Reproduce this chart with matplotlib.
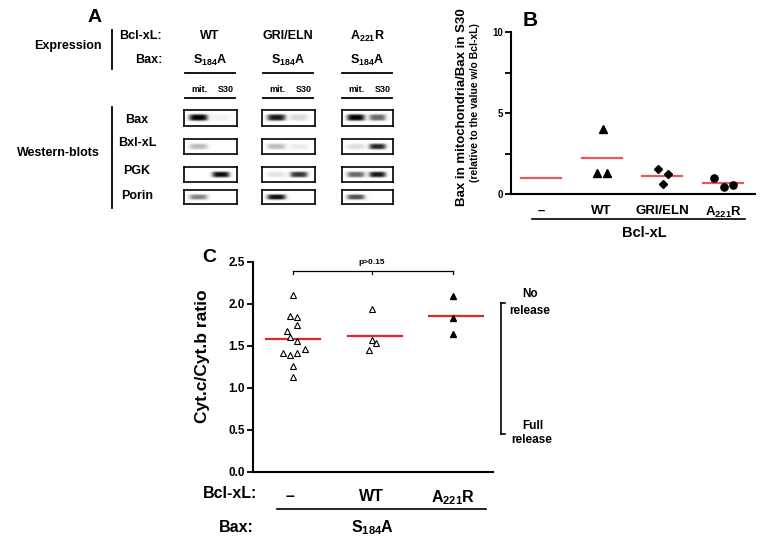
import matplotlib
matplotlib.use("Agg")
import matplotlib.pyplot as plt
import numpy as np
from matplotlib.lines import Line2D

plt.rcParams['font.family'] = ['Liberation Sans', 'DejaVu Sans']
plt.rcParams['font.weight'] = 'bold'
plt.rcParams['mathtext.fontset'] = 'custom'
plt.rcParams['mathtext.rm'] = 'Liberation Sans:bold'
plt.rcParams['mathtext.it'] = 'Liberation Sans:bold'
plt.rcParams['mathtext.bf'] = 'Liberation Sans:bold'

W, H = 779, 551
S184A = "S$_{184}$A"
A221R = "A$_{221}$R"

# ---- panel A: western blots (band intensity 0..1) ----
blot_cols = ["WT", "GRI/ELN", A221R]
blot_rows = ["Bax", "Bxl-xL", "PGK", "Porin"]
# rows: Bax, Bcl-xL, PGK, Porin ; one value per column
band_mit = [[1.0, 0.9, 1.0],
            [0.3, 0.3, 0.15],
            [0.0, 0.12, 0.6],
            [0.5, 0.95, 0.7]]
band_s30 = [[0.06, 0.18, 0.6],
            [0.0, 0.1, 0.85],
            [0.95, 0.8, 0.9],
            [0.0, 0.0, 0.0]]

# ---- panel B ----
b_labels = ["\u2013", "WT", "GRI/ELN", A221R]
b_means = [1.0, 2.2, 1.14, 0.67]
b_wt = [4.01, 1.28, 1.30]
b_gri = [1.54, 1.23, 0.64]
b_a221r = [1.0, 0.43, 0.57]
b_jit = [[0.02, -0.08, 0.09], [-0.07, 0.09, 0.01], [-0.15, 0.02, 0.165]]

# ---- panel C ----
c_labels = ["\u2013", "WT", A221R]
c_none = [2.11, 1.86, 1.84, 1.75, 1.68, 1.61, 1.56, 1.47, 1.42, 1.39, 1.42, 1.26, 1.13]
c_none_jit = [0.037, 0, 0.086, 0.086, -0.037, 0, 0.086, 0.184, -0.086, 0, 0.086, 0.037, 0.037]
c_wt = [1.94, 1.57, 1.53, 1.45]
c_wt_jit = [0, 0, 0.05, -0.037]
c_a221r = [2.09, 1.83, 1.64]
c_means = [1.58, 1.62, 1.855]


def fx(px):
    return px / W


def fy(py):
    return 1 - py / H


def rect(x0, y0, x1, y1):
    return [fx(x0), fy(y1), (x1 - x0) / W, (y1 - y0) / H]


def txt(x, y, s, size, ha="center", **kw):
    fig.text(fx(x), fy(y), s, fontsize=size, ha=ha, va="center", fontweight="bold", **kw)


def hline(x0, x1, y, lw=1.3):
    fig.add_artist(Line2D([fx(x0), fx(x1)], [fy(y), fy(y)], color="black", lw=lw))


def vline(x, y0, y1, lw=1.3):
    fig.add_artist(Line2D([fx(x), fx(x)], [fy(y0), fy(y1)], color="black", lw=lw))


def band_image(mit, s30):
    X, Y = np.meshgrid(np.linspace(0, 1, 80), np.linspace(0, 1, 24))
    vert = np.exp(-((Y - 0.5) / 0.2) ** 4)
    img = mit * np.exp(-((X - 0.27) / 0.18) ** 4) * vert
    img = img + s30 * np.exp(-((X - 0.70) / 0.17) ** 4) * vert
    return np.clip(img, 0, 1) ** 0.8


fig = plt.figure(figsize=(7.79, 5.51), dpi=100)

# ================= Panel A =================
txt(95, 17, "A", 14)
txt(68, 46, "Expression", 9)
vline(112, 30, 69)
txt(162, 36, "Bcl-xL:", 9, ha="right")
txt(162, 60, "Bax:", 9, ha="right")
col_x = [210, 288, 367]
box_x = [(184, 237), (262, 315), (342, 393)]
box_y = [(110, 126), (139, 154), (167, 182), (190, 204)]
row_y = [120, 143, 171, 196]
for c, name in enumerate(blot_cols):
    cx = col_x[c]
    txt(cx, 36, name, 9)
    txt(cx, 60, S184A, 9)
    hline(cx - 25, cx + 25, 73)
    txt(cx - 11, 89, "mit.", 6.5)
    txt(cx + 16, 89, "S30", 6.5)
    hline(cx - 25, cx + 25, 98)
    for r in range(len(blot_rows)):
        ax = fig.add_axes(rect(box_x[c][0], box_y[r][0], box_x[c][1], box_y[r][1]))
        ax.imshow(band_image(band_mit[r][c], band_s30[r][c]), cmap="Greys",
                  vmin=0, vmax=1, aspect="auto", interpolation="bilinear")
        ax.set_xticks([])
        ax.set_yticks([])
        for sp in ax.spines.values():
            sp.set_linewidth(1.2)
vline(112, 107, 208)
txt(58, 153, "Western-blots", 9)
for r, name in enumerate(blot_rows):
    txt(137, row_y[r], name, 9)

# ================= Panel B =================
axb = fig.add_axes(rect(511, 32, 755, 194))
b_x = np.arange(len(b_labels))
for i, m in enumerate(b_means):
    axb.plot([i - 0.33, i + 0.33], [m, m], color="#e45a5a", lw=1.6, zorder=2)
axb.plot(1 + np.array(b_jit[0]), b_wt, "^", color="black", ms=5.5, zorder=3)
axb.plot(2 + np.array(b_jit[1]), b_gri, "D", color="black", ms=4.2, zorder=3)
axb.plot(3 + np.array(b_jit[2]), b_a221r, "o", color="black", ms=5.2, zorder=3)
axb.set_xlim(-0.494, 3.527)
axb.set_ylim(0, 10)
axb.set_yticks([0, 2.5, 5, 7.5, 10])
axb.set_yticklabels(["0", "", "5", "", "10"], fontsize=7, fontweight="bold")
axb.set_xticks(b_x)
axb.set_xticklabels(b_labels, fontsize=9.5, fontweight="bold")
axb.tick_params(axis="x", length=0, pad=8)
axb.tick_params(axis="y", length=4, width=1.3, pad=2)
for sp in ["top", "right"]:
    axb.spines[sp].set_visible(False)
for sp in ["left", "bottom"]:
    axb.spines[sp].set_linewidth(1.5)
txt(530, 20, "B", 15)
txt(462, 107, "Bax in mitochondria/Bax in S30", 9.5, rotation=90)
txt(475, 103, "(relative to the value w/o Bcl-xL)", 7.5, rotation=90)
hline(532, 745, 219, lw=1.2)
txt(644, 233, "Bcl-xL", 10.5)

# ================= Panel C =================
axc = fig.add_axes(rect(253, 262, 493, 472))
for i, m in enumerate(c_means):
    axc.plot([i - 0.29, i + 0.37], [m, m], color="#e02828", lw=1.6, zorder=2)
axc.plot(np.array(c_none_jit), c_none, "^", mfc="white", mec="black",
         mew=0.8, ms=5, zorder=3)
axc.plot(1 + np.array(c_wt_jit), c_wt, "^", mfc="white", mec="black",
         mew=0.8, ms=5, zorder=3)
axc.plot([2] * len(c_a221r), c_a221r, "^", color="black", ms=3.8, zorder=3)
# significance bracket
axc.plot([0.04, 2.0], [2.39, 2.39], color="black", lw=0.9, clip_on=False)
for bx in [0.04, 1.0, 2.0]:
    axc.plot([bx, bx], [2.39, 2.355], color="black", lw=0.9, clip_on=False)
axc.text(1.0, 2.49, "p>0.15", fontsize=6, ha="center", va="center", fontweight="bold")
axc.set_xlim(-0.454, 2.49)
axc.set_ylim(0, 2.5)
axc.set_yticks([0, 0.5, 1.0, 1.5, 2.0, 2.5])
axc.set_yticklabels(["0.0", "0.5", "1.0", "1.5", "2.0", "2.5"], fontsize=8.5, fontweight="bold")
axc.set_xticks(np.arange(len(c_labels)))
axc.set_xticklabels(c_labels, fontsize=11.5, fontweight="bold")
axc.tick_params(axis="x", length=0, pad=12)
axc.tick_params(axis="y", length=4, width=1.3, pad=2)
for sp in ["top", "right"]:
    axc.spines[sp].set_visible(False)
for sp in ["left", "bottom"]:
    axc.spines[sp].set_linewidth(1.5)
txt(209, 258, "C", 14)
txt(203, 356, "Cyt.c/Cyt.b ratio", 12.5, rotation=90)
txt(230, 493, "Bcl-xL:", 11.5)
hline(277, 486, 509, lw=1.2)
txt(236, 528, "Bax:", 11.5)
txt(373, 528, S184A, 11.5)
# release bracket
vline(501, 303, 434, lw=1.2)
hline(501, 505, 303, lw=1.2)
hline(501, 505, 434, lw=1.2)
txt(530, 294, "No", 8.5)
txt(530, 311, "release", 8.5)
txt(533, 426, "Full", 8.5)
txt(532, 440, "release", 8.5)

fig.savefig("out.png", dpi=100)
